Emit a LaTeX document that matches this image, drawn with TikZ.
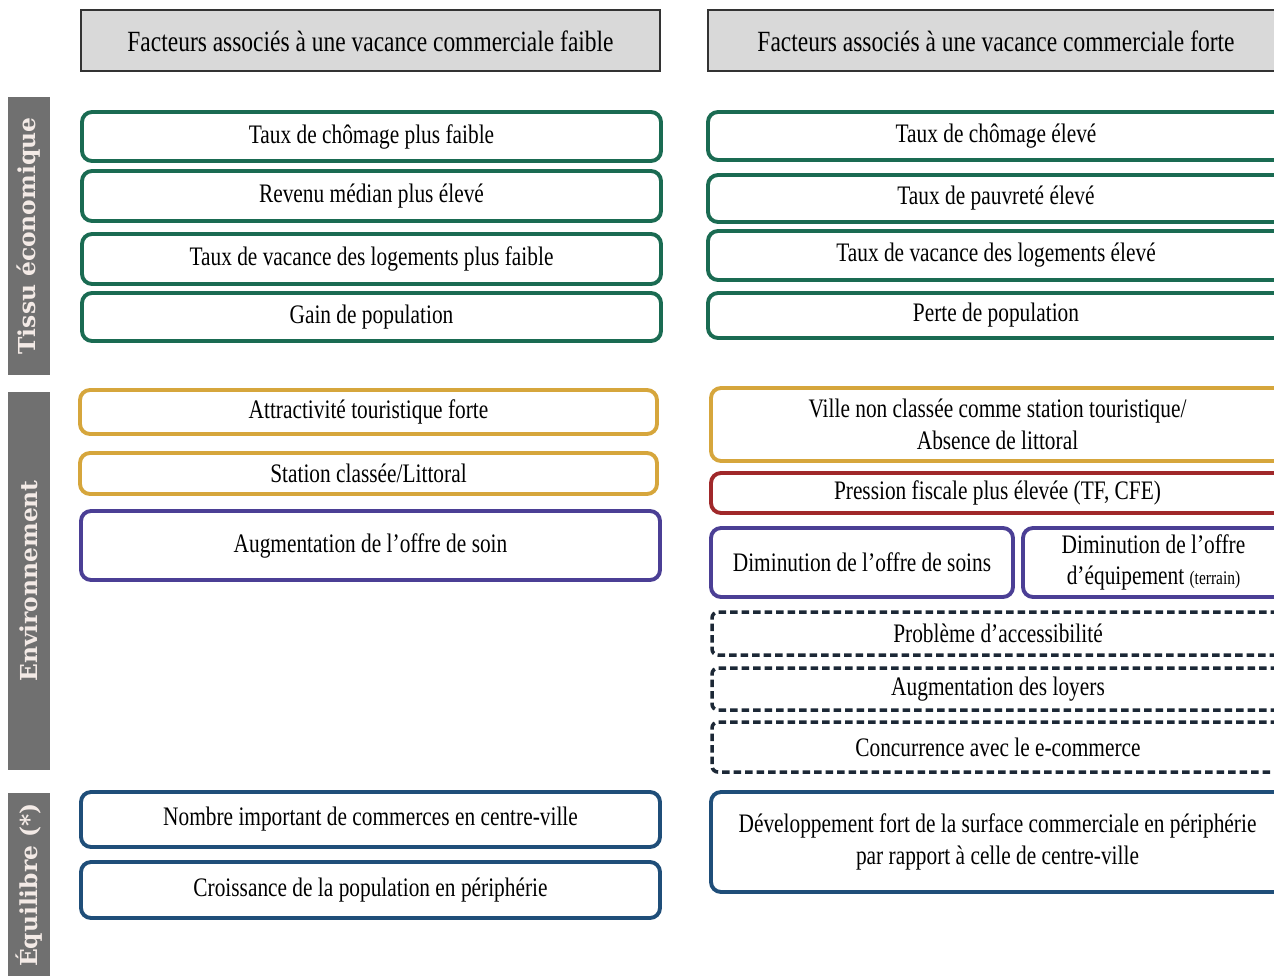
\documentclass[tikz,border=0pt]{standalone}
\usepackage{fontspec}
\setmainfont{Liberation Serif}[FakeStretch=0.8]
\newfontfamily\barfont{DejaVu Serif}
\usetikzlibrary{calc}
\definecolor{vertF}{HTML}{1A6B52}
\definecolor{orF}{HTML}{D6A63C}
\definecolor{violetF}{HTML}{4B3F95}
\definecolor{bleuF}{HTML}{1F4E79}
\definecolor{rougeF}{HTML}{A0282A}
\definecolor{tiretF}{HTML}{1C2836}
\definecolor{barreF}{HTML}{707070}
\definecolor{titreF}{HTML}{D9D9D9}
\definecolor{texteB}{HTML}{F3EAE6}
% boite : nom, style, x1, y1, x2, y2, texte (en pixels)
\newcommand\boite[7]{\node[#2, minimum width={(#5-#3)*0.02cm}, minimum height={(#6-#4)*0.02cm}] (#1) at ({(#3+#5)/2},{(#4+#6)/2}) {#7};}
\tikzset{
	facteur/.style={draw=#1, line width=2.2pt, rounded corners=0.2cm, fill=white, align=center, inner sep=0pt, font=\fontsize{15.2}{18}\selectfont},
	tirets/.style={draw=tiretF, line width=2pt, rounded corners=0.12cm, dash pattern=on 0.15cm off 0.08cm, fill=white, align=center, inner sep=0pt, font=\fontsize{15.2}{18}\selectfont},
	entete/.style={draw=black!80, line width=0.8pt, fill=titreF, inner sep=0pt, text height=0.45cm, text depth=0cm, font=\fontsize{16.7}{20}\selectfont},
	barre/.style={fill=barreF, inner sep=0pt},
	etiquette/.style={rotate=90, text=texteB, font=\barfont\bfseries\fontsize{13.3}{15}\selectfont},
}
\begin{document}
\begin{tikzpicture}[x=0.02cm, y=-0.02cm]
			%%%%% CADRE %%%%%
			\useasboundingbox (0,0) rectangle (1274,975);
			\clip (0,0) rectangle (1274,975);
			
			%%%%% BARRES LATERALES %%%%%
			\boite{tissu}{barre}{8}{97}{50}{375}{}
			\node[etiquette] (tissuT) at (tissu.center) {Tissu économique};
			\boite{envir}{barre}{8}{392}{50}{770}{}
			\node[etiquette] (envirT) at (envir.center) {Environnement};
			\boite{equil}{barre}{8}{793}{50}{985}{}
			\node[etiquette] (equilT) at (29,885) {Équilibre (*)};
			
			%%%%% EN-TETES %%%%%
			\boite{tfaible}{entete}{81}{10}{660}{71}{Facteurs associés à une vacance commerciale faible}
			\boite{tforte}{entete}{708}{10}{1284}{71}{Facteurs associés à une vacance commerciale forte}
			
			%%%%% FAIBLE %%%%%
			\boite{f1}{facteur=vertF}{82}{112}{661}{161}{Taux de chômage plus faible}
			\boite{f2}{facteur=vertF}{82}{171}{661}{221}{Revenu médian plus élevé}
			\boite{f3}{facteur=vertF}{82}{234}{661}{284}{Taux de vacance des logements plus faible}
			\boite{f4}{facteur=vertF}{82}{293}{661}{341}{Gain de population}
			
			\boite{f5}{facteur=orF}{80}{390}{657}{434}{Attractivité touristique forte}
			\boite{f6}{facteur=orF}{80}{453}{657}{494}{Station classée/Littoral}
			\boite{f7}{facteur=violetF}{81}{511}{660}{580}{Augmentation de l’offre de soin}
			
			\boite{f8}{facteur=bleuF}{81}{792}{660}{847}{Nombre important de commerces en centre-ville}
			\boite{f9}{facteur=bleuF}{81}{862}{660}{918}{Croissance de la population en périphérie}
			
			%%%%% FORTE %%%%%
			\boite{v1}{facteur=vertF}{708}{112}{1284}{160}{Taux de chômage élevé}
			\boite{v2}{facteur=vertF}{708}{175}{1284}{222}{Taux de pauvreté élevé}
			\boite{v3}{facteur=vertF}{708}{231}{1284}{280}{Taux de vacance des logements élevé}
			\boite{v4}{facteur=vertF}{708}{293}{1284}{338}{Perte de population}
			
			\boite{v5}{facteur=orF}{711}{388}{1284}{461}{Ville non classée comme station touristique/\\Absence de littoral}
			\boite{v6}{facteur=rougeF}{711}{473}{1284}{513}{Pression fiscale plus élevée (TF, CFE)}
			\boite{v7}{facteur=violetF}{711}{528}{1013}{597}{Diminution de l’offre de soins}
			\boite{v8}{facteur=violetF}{1023}{528}{1284}{597}{Diminution de l’offre\\d’équipement {\fontsize{11}{12}\selectfont(terrain)}}
			
			\boite{v9}{tirets}{712}{612}{1284}{655}{Problème d’accessibilité}
			\boite{v10}{tirets}{712}{668}{1284}{710}{Augmentation des loyers}
			\boite{v11}{tirets}{712}{722}{1284}{772}{Concurrence avec le e-commerce}
			
			\boite{v12}{facteur=bleuF}{711}{792}{1284}{892}{Développement fort de la surface commerciale en périphérie\\par rapport à celle de centre-ville}
\end{tikzpicture}
\end{document}
